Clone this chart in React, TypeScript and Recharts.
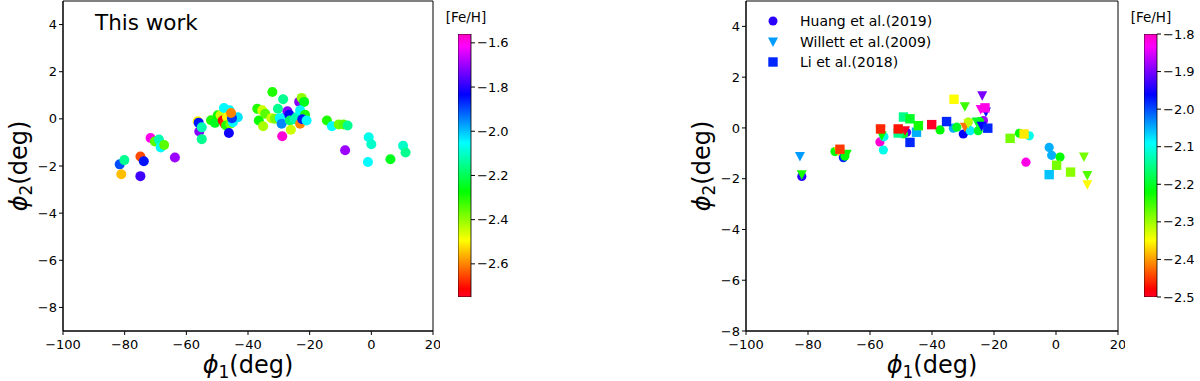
import React from 'react';
import { ScatterChart, Scatter, BarChart, Bar, XAxis, YAxis, ReferenceArea, Legend } from 'recharts';

// [phi1, phi2, [Fe/H]]
const THIS_WORK: [number, number, number][] = [
  [-81.6, -1.93, -1.9], [-80.1, -1.75, -2.15], [-81.1, -2.35, -2.55], [-74.9, -1.6, -2.65],
  [-73.8, -1.8, -1.85], [-74.9, -2.43, -1.78], [-71.6, -0.81, -1.6], [-70.2, -0.96, -2.35],
  [-68.9, -0.88, -2.12], [-68.3, -1.21, -2.05], [-67.2, -1.11, -2.35], [-63.7, -1.64, -1.7],
  [-56.3, -0.1, -2.5], [-56.0, -0.16, -1.85], [-55.8, -0.54, -1.72], [-55.0, -0.36, -2.12],
  [-55.0, -0.86, -2.15], [-52.0, -0.06, -2.3], [-50.7, -0.17, -2.25], [-49.8, 0.15, -2.28],
  [-48.9, 0.15, -2.45], [-47.8, 0.46, -2.05], [-46.0, 0.36, -2.05], [-48.2, -0.07, -2.72],
  [-47.6, -0.21, -2.68], [-46.8, 0.07, -2.5], [-47.1, -0.28, -2.3], [-45.7, -0.21, -2.38],
  [-44.9, -0.14, -2.05], [-43.3, 0.07, -2.03], [-45.2, 0.03, -1.88], [-45.5, 0.25, -2.6],
  [-46.2, -0.6, -1.82], [-36.5, -0.07, -2.28], [-37.0, 0.43, -2.3], [-35.4, 0.36, -2.45],
  [-34.4, 0.22, -2.35], [-35.1, -0.31, -2.42], [-32.1, 1.14, -2.3], [-28.6, 0.83, -2.15],
  [-30.3, 0.43, -2.15], [-32.4, 0.03, -2.45], [-31.3, 0.0, -2.38], [-29.7, 0.03, -2.05],
  [-28.1, 0.07, -2.05], [-29.1, -0.21, -1.95], [-28.9, -0.74, -1.58], [-27.2, 0.32, -1.72],
  [-26.6, 0.17, -1.83], [-26.4, -0.07, -2.18], [-26.1, -0.46, -2.45], [-24.8, -0.02, -2.12],
  [-24.3, 0.07, -2.12], [-23.4, 0.72, -1.72], [-22.6, 0.89, -2.4], [-21.8, 0.72, -2.25],
  [-23.1, 0.36, -2.05], [-23.1, -0.21, -2.6], [-21.5, 0.17, -2.3], [-22.4, -0.02, -1.85],
  [-21.0, -0.07, -2.05], [-14.4, -0.07, -2.3], [-12.8, -0.31, -2.05], [-10.6, -0.24, -2.37],
  [-9.0, -0.24, -2.35], [-7.7, -0.28, -2.15], [-8.5, -1.33, -1.7], [-0.85, -0.78, -2.07],
  [0.0, -1.08, -2.1], [-1.1, -1.83, -2.05], [6.2, -1.71, -2.25], [10.3, -1.14, -2.1],
  [11.1, -1.43, -2.15],
];

const HUANG: [number, number, number][] = [
  [-82.0, -1.91, -1.94], [-71.3, -0.93, -2.22], [-68.6, -1.17, -1.98], [-68.1, -1.11, -2.22],
  [-56.8, -0.55, -1.81], [-55.5, -0.35, -2.1], [-55.7, -0.87, -2.1], [-48.2, -0.17, -1.92],
  [-49.2, -0.24, -2.2], [-37.4, -0.08, -2.22], [-33.1, -0.01, -2.05], [-32.0, 0.03, -2.2],
  [-29.9, -0.24, -1.96], [-28.3, 0.23, -2.3], [-27.7, -0.11, -2.08], [-25.1, -0.11, -2.2],
  [-23.4, 0.29, -1.88], [-24.7, 0.25, -2.22], [-11.8, -0.21, -2.22], [-8.6, -0.31, -2.1],
  [-9.7, -1.35, -1.82], [-2.2, -0.77, -2.05], [-1.4, -1.08, -2.05], [1.3, -1.15, -2.22],
];

const WILLETT: [number, number, number][] = [
  [-82.6, -1.13, -2.04], [-82.0, -1.84, -2.23], [-70.2, -0.93, -2.37], [-67.5, -1.04, -2.22],
  [-56.6, -0.11, -2.47], [-56.2, -0.31, -2.22], [-48.7, -0.11, -2.5], [-29.4, 0.83, -2.25],
  [-29.4, 0.03, -2.42], [-28.3, 0.16, -2.32], [-25.6, 0.23, -2.2], [-23.8, 1.27, -1.9],
  [-24.3, 0.73, -1.82], [-22.6, 0.63, -1.97], [-24.0, 0.07, -1.96], [9.0, -1.15, -2.28],
  [10.1, -1.87, -2.26], [10.1, -2.24, -2.35],
];

const LI: [number, number, number][] = [
  [-47.1, -0.57, -1.98], [-69.7, -0.84, -2.45], [-56.6, -0.04, -2.46], [-49.2, 0.43, -2.15],
  [-47.1, 0.36, -2.2], [-50.9, -0.2, -2.15], [-50.9, -0.04, -2.47], [-45.0, -0.17, -2.05],
  [-44.4, 0.09, -2.23], [-40.1, 0.13, -2.5], [-35.3, 0.25, -1.98], [-32.9, 1.13, -2.35],
  [-22.9, 0.79, -1.82], [-22.0, -0.01, -1.98], [-14.8, -0.41, -2.28], [-10.3, -0.24, -2.36],
  [0.2, -1.47, -2.28], [-2.2, -1.84, -2.06], [4.7, -1.74, -2.29],
];

const X_TICKS = [-100, -80, -60, -40, -20, 0, 20];
const Y_TICKS = [-8, -6, -4, -2, 0, 2, 4];
const CB_LEFT_TICKS = [-2.6, -2.4, -2.2, -2.0, -1.8, -1.6];
const CB_RIGHT_TICKS = [-2.5, -2.4, -2.3, -2.2, -2.1, -2.0, -1.9, -1.8];
const CB_LEFT_RANGE: [number, number] = [-2.75, -1.56];
const CB_RIGHT_RANGE: [number, number] = [-2.5, -1.8];

// gist_rainbow
const RAINBOW: [number, number, number, number][] = [
  [0, 1, 0, 0.16], [0.03, 1, 0, 0], [0.215, 1, 1, 0], [0.4, 0, 1, 0],
  [0.586, 0, 1, 1], [0.77, 0, 0, 1], [0.954, 1, 0, 1], [1, 1, 0, 0.75],
];

const rainbow = (t: number) => {
  const v = Math.max(0, Math.min(1, t));
  let i = 0;
  while (i < RAINBOW.length - 2 && v > RAINBOW[i + 1][0]) i++;
  const a = RAINBOW[i];
  const b = RAINBOW[i + 1];
  const f = (v - a[0]) / (b[0] - a[0]);
  const c = (k: number) => Math.round(255 * (a[k] + (b[k] - a[k]) * f));
  return `rgb(${c(1)},${c(2)},${c(3)})`;
};

const toRows = (rows: [number, number, number][]) => rows.map(([phi1, phi2, feh]) => ({ phi1, phi2, feh }));

const FONT = 'DejaVu Sans';
const fmt = (v: number) => String(v).replace('-', '\u2212');
const fmt1 = (v: number) => v.toFixed(1).replace('-', '\u2212');

const colorOf = (feh: number, range: [number, number]) => rainbow((feh - range[0]) / (range[1] - range[0]));

const circle = (range: [number, number], r: number) => (p: any) =>
  <circle cx={p.cx} cy={p.cy} r={r} fill={colorOf(p.payload.feh, range)} />;
const triDown = (range: [number, number]) => (p: any) =>
  <polygon points={`${p.cx - 5},${p.cy - 4.5} ${p.cx + 5},${p.cy - 4.5} ${p.cx},${p.cy + 5}`} fill={colorOf(p.payload.feh, range)} />;
const square = (range: [number, number]) => (p: any) =>
  <rect x={p.cx - 4.7} y={p.cy - 4.7} width={9.4} height={9.4} fill={colorOf(p.payload.feh, range)} />;

const xLabel = (props: any) => {
  const vb = props.viewBox;
  return (
    <text x={vb.x + vb.width / 2} y={vb.y + 42} textAnchor="middle" fontSize={24} fontFamily={FONT} fill="#000">
      <tspan fontStyle="italic">ϕ</tspan>
      <tspan fontSize={17} dy={5}>1</tspan>
      <tspan dy={-5}>(deg)</tspan>
    </text>
  );
};

const yLabel = (props: any) => {
  const vb = props.viewBox;
  const cx = 27;
  const cy = vb.y + vb.height / 2;
  return (
    <text x={cx} y={cy} transform={`rotate(-90, ${cx}, ${cy})`} textAnchor="middle" fontSize={24} fontFamily={FONT} fill="#000">
      <tspan fontStyle="italic">ϕ</tspan>
      <tspan fontSize={17} dy={5}>2</tspan>
      <tspan dy={-5}>(deg)</tspan>
    </text>
  );
};

const tickStyle = { fill: '#000', fontSize: 13, fontFamily: FONT };

const SERIES = [
  { name: 'Huang et al.(2019)', rows: HUANG, kind: 'circle' },
  { name: 'Willett et al.(2009)', rows: WILLETT, kind: 'tri' },
  { name: 'Li et al.(2018)', rows: LI, kind: 'square' },
];

const legendMarker = (kind: string, color: string) => {
  if (kind === 'circle') return <circle cx={7} cy={7} r={4.5} fill={color} />;
  if (kind === 'tri') return <polygon points="2,2.5 12,2.5 7,12" fill={color} />;
  return <rect x={2.3} y={2.3} width={9.4} height={9.4} fill={color} />;
};

const renderLegend = () => (
  <div style={{ fontFamily: FONT, fontSize: 14, color: '#000' }}>
    {SERIES.map((s) => (
      <div key={s.name} style={{ display: 'flex', alignItems: 'center', height: 20.5 }}>
        <svg width={14} height={14}>{legendMarker(s.kind, colorOf(s.rows[0][2], CB_RIGHT_RANGE))}</svg>
        <span style={{ marginLeft: 20, whiteSpace: 'nowrap' }}>{s.name}</span>
      </div>
    ))}
  </div>
);

const ColorBar = ({ left, range, ticks, id }: { left: number; range: [number, number]; ticks: number[]; id: string }) => (
  <div style={{ position: 'absolute', left, top: 0 }}>
    <BarChart width={75} height={381} data={[{ name: 'cb', span: range }]}
      margin={{ top: 34, right: 0, bottom: 84, left: 0 }} barCategoryGap={0}>
      <XAxis dataKey="name" hide />
      <YAxis type="number" domain={range} ticks={ticks} orientation="right" width={62}
        tickSize={4} stroke="#000" tick={tickStyle} tickFormatter={fmt1} axisLine={false} allowDataOverflow />
      <Bar dataKey="span" fill={`url(#${id})`} stroke="#000" strokeWidth={0.8} isAnimationActive={false} />
    </BarChart>
  </div>
);

export default function App() {
  const stops = [...RAINBOW].reverse();
  return (
    <div style={{ position: 'absolute', left: 0, top: 0, width: 1200, height: 381, background: '#fff', fontFamily: FONT }}>
      <svg width={0} height={0} style={{ position: 'absolute' }}>
        <defs>
          {['cbL', 'cbR'].map((id) => (
            <linearGradient key={id} id={id} x1="0" y1="0" x2="0" y2="1">
              {stops.map((s) => (
                <stop key={s[0]} offset={1 - s[0]} stopColor={rainbow(s[0])} />
              ))}
            </linearGradient>
          ))}
        </defs>
      </svg>

      {/* left panel: this work */}
      <div style={{ position: 'absolute', left: 0, top: 0 }}>
        <ScatterChart width={440} height={381} margin={{ top: 1, right: 7, bottom: 0, left: 0 }}>
          <XAxis type="number" dataKey="phi1" domain={[-100, 20]} ticks={X_TICKS} height={50} tickSize={4} tickMargin={5}
            stroke="#000" tick={tickStyle} tickFormatter={fmt} allowDataOverflow label={xLabel} />
          <YAxis type="number" dataKey="phi2" domain={[-9, 5]} ticks={Y_TICKS} width={63} tickSize={4}
            stroke="#000" tick={tickStyle} tickFormatter={fmt} allowDataOverflow label={yLabel} />
          <ReferenceArea x1={-100} x2={20} y1={-9} y2={5} fill="none" stroke="#000" strokeWidth={1} ifOverflow="visible" />
          <Scatter data={toRows(THIS_WORK)} shape={circle(CB_LEFT_RANGE, 5)} isAnimationActive={false} />
        </ScatterChart>
      </div>
      <div style={{ position: 'absolute', left: 95, top: 12, fontSize: 21.5, lineHeight: 1, color: '#000' }}>This work</div>
      <ColorBar left={458} range={CB_LEFT_RANGE} ticks={CB_LEFT_TICKS} id="cbL" />
      <div style={{ position: 'absolute', left: 441, top: 9, width: 50, textAlign: 'center', fontSize: 13.5, color: '#000' }}>[Fe/H]</div>

      {/* right panel: literature */}
      <div style={{ position: 'absolute', left: 683, top: 0 }}>
        <ScatterChart width={442} height={381} margin={{ top: 1, right: 7, bottom: 0, left: 0 }}>
          <XAxis type="number" dataKey="phi1" domain={[-100, 20]} ticks={X_TICKS} height={50} tickSize={4} tickMargin={5}
            stroke="#000" tick={tickStyle} tickFormatter={fmt} allowDataOverflow label={xLabel} />
          <YAxis type="number" dataKey="phi2" domain={[-8, 5]} ticks={Y_TICKS} width={63} tickSize={4}
            stroke="#000" tick={tickStyle} tickFormatter={fmt} allowDataOverflow label={yLabel} />
          <ReferenceArea x1={-100} x2={20} y1={-8} y2={5} fill="none" stroke="#000" strokeWidth={1} ifOverflow="visible" />
          <Scatter name={SERIES[0].name} data={toRows(HUANG)} shape={circle(CB_RIGHT_RANGE, 4.6)} isAnimationActive={false} />
          <Scatter name={SERIES[1].name} data={toRows(WILLETT)} shape={triDown(CB_RIGHT_RANGE)} isAnimationActive={false} />
          <Scatter name={SERIES[2].name} data={toRows(LI)} shape={square(CB_RIGHT_RANGE)} isAnimationActive={false} />
          <Legend layout="vertical" align="center" verticalAlign="middle" content={renderLegend}
            wrapperStyle={{ top: 11, left: 83, width: 220 }} />
        </ScatterChart>
      </div>
      <ColorBar left={1144} range={CB_RIGHT_RANGE} ticks={CB_RIGHT_TICKS} id="cbR" />
      <div style={{ position: 'absolute', left: 1126, top: 9, width: 50, textAlign: 'center', fontSize: 13.5, color: '#000' }}>[Fe/H]</div>
    </div>
  );
}
